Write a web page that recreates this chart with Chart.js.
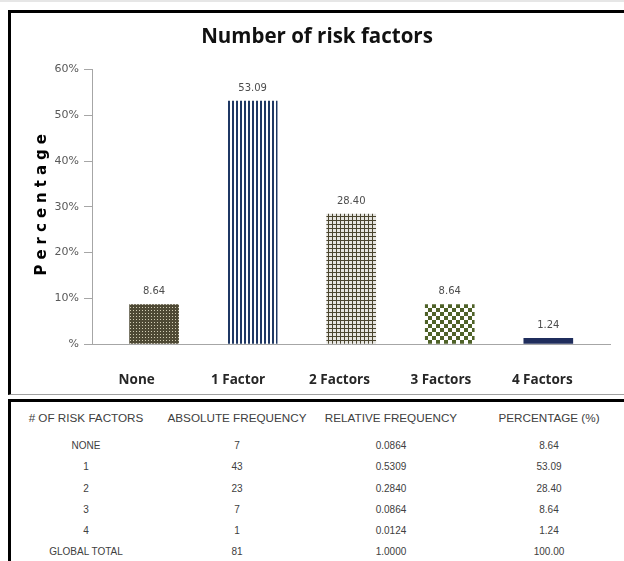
<!DOCTYPE html>
<html>
<head>
<meta charset="utf-8">
<script src="https://cdn.jsdelivr.net/npm/chart.js@4.4.1/dist/chart.umd.min.js"></script>
<style>
    body { margin: 0; width: 624px; height: 561px; overflow: hidden; background: #fff; position: relative; }
    .strip { position: absolute; left: 0; top: 0; width: 624px; height: 2px; background: #e6e6e6; }
    .chart-box { position: absolute; left: 8px; top: 10px; width: 700px; height: 385px; box-sizing: border-box;
        border-left: 3px solid #000; border-top: 3px solid #000; border-bottom: 1px solid #a0a0a0; }
    .table-box { position: absolute; left: 8px; top: 399px; width: 700px; height: 200px; box-sizing: border-box;
        border-left: 3px solid #000; border-top: 3px solid #000; }
    #chart { position: absolute; left: 0; top: 0; z-index: 1; }
    #freq { border-collapse: collapse; font-family: "Liberation Sans", Arial, sans-serif; color: #404040; }
    #freq td { padding: 0; text-align: center; white-space: nowrap; }
    #freq tr.head td { height: 33px; vertical-align: top; padding-top: 9px; box-sizing: border-box; font-size: 11.7px; line-height: 14px; }
    #freq tr.row td { height: 21.3px; font-size: 10px; line-height: 21.3px; }
</style>
</head>
<body>
<div class="strip"></div>
<div class="chart-box"></div>
<div class="table-box">
    <table id="freq">
        <colgroup>
            <col style="width:150px"><col style="width:152px"><col style="width:156px"><col style="width:160px">
        </colgroup>
        <tbody id="freq-body"></tbody>
    </table>
</div>
<canvas id="chart" width="624" height="394"></canvas>
<script>
const categories = ['None', '1 Factor', '2 Factors', '3 Factors', '4 Factors'];
const percentages = [8.64, 53.09, 28.40, 8.64, 1.24];

const tableHeaders = ['# OF RISK FACTORS', 'ABSOLUTE FREQUENCY', 'RELATIVE FREQUENCY', 'PERCENTAGE (%)'];
const rowLabels = ['NONE', '1', '2', '3', '4'];
const absoluteFreq = [7, 43, 23, 7, 1];
const relativeFreq = [0.0864, 0.5309, 0.2840, 0.0864, 0.0124];
const totalRow = ['GLOBAL TOTAL', 81, 1.0000, 100.00];

// table under the chart
const body = document.getElementById('freq-body');
let html = '<tr class="head">' + tableHeaders.map(h => `<td>${h}</td>`).join('') + '</tr>';
rowLabels.forEach((label, i) => {
    html += `<tr class="row"><td>${label}</td><td>${absoluteFreq[i]}</td>` +
        `<td>${relativeFreq[i].toFixed(4)}</td><td>${percentages[i].toFixed(2)}</td></tr>`;
});
html += `<tr class="row"><td>${totalRow[0]}</td><td>${totalRow[1]}</td>` +
    `<td>${totalRow[2].toFixed(4)}</td><td>${totalRow[3].toFixed(2)}</td></tr>`;
body.innerHTML = html;

const canvas = document.getElementById('chart');
const ctx = canvas.getContext('2d');

function makePattern(size, draw) {
    const tile = document.createElement('canvas');
    tile.width = size;
    tile.height = size;
    draw(tile.getContext('2d'), size);
    return ctx.createPattern(tile, 'repeat');
}

const dotted = makePattern(3, (p, s) => {
    p.fillStyle = '#4e4934';
    p.fillRect(0, 0, s, s);
    p.fillStyle = '#d2cdb4';
    p.fillRect(1, 1, 1, 1);
});
const stripes = makePattern(4, (p) => {
    p.fillStyle = '#ffffff';
    p.fillRect(0, 0, 4, 4);
    p.fillStyle = '#1f3864';
    p.fillRect(0, 0, 2, 4);
});
const grid = makePattern(4, (p) => {
    p.fillStyle = '#e6e5e0';
    p.fillRect(0, 0, 4, 4);
    p.fillStyle = '#4a452f';
    p.fillRect(0, 0, 1, 4);
    p.fillRect(0, 0, 4, 1);
});
const checker = makePattern(8, (p) => {
    p.fillStyle = '#ffffff';
    p.fillRect(0, 0, 8, 8);
    p.fillStyle = '#4f6228';
    p.fillRect(0, 0, 4, 4);
    p.fillRect(4, 4, 4, 4);
});
const fills = [dotted, stripes, grid, checker, '#1f2d5c'];

const valueLabels = {
    id: 'valueLabels',
    afterDatasetsDraw(chart) {
        const c = chart.ctx;
        c.save();
        c.font = '10px "DejaVu Sans"';
        c.fillStyle = '#4d4d4d';
        c.textAlign = 'center';
        c.textBaseline = 'middle';
        chart.getDatasetMeta(0).data.forEach((bar, i) => {
            c.fillText(percentages[i].toFixed(2), bar.x, bar.y - 13);
        });
        c.restore();
    }
};

// spaced vertical axis title
const yTitle = {
    id: 'yTitle',
    afterDraw(chart) {
        const c = chart.ctx;
        const area = chart.chartArea;
        c.save();
        c.translate(chart.scales.y.left + 18, (area.top + area.bottom) / 2 - 2);
        c.rotate(-Math.PI / 2);
        c.font = 'bold 15px "DejaVu Sans"';
        c.letterSpacing = '5px';
        c.fillStyle = '#000';
        c.textAlign = 'center';
        c.textBaseline = 'middle';
        c.fillText('Percentage', 2.5, 0);
        c.restore();
    }
};

new Chart(ctx, {
    type: 'bar',
    data: {
        datasets: [{
            data: percentages.map((v, i) => ({ x: i, y: v })),
            backgroundColor: fills,
            borderWidth: 0,
            barThickness: 49,
            xAxisID: 'x',
            yAxisID: 'y'
        }]
    },
    options: {
        responsive: false,
        animation: false,
        layout: { padding: { left: 24, right: 14, top: 0, bottom: 0 } },
        plugins: {
            legend: { display: false },
            tooltip: { enabled: false },
            title: {
                display: true,
                text: 'Number of risk factors',
                color: '#111',
                font: { family: 'Open Sans', size: 20.5, weight: 'bold' },
                padding: { top: 25, bottom: 20 }
            }
        },
        scales: {
            x: {
                type: 'linear',
                axis: 'x',
                position: 'bottom',
                weight: 0,
                offset: false,
                min: -0.63,
                max: 4.626,
                grid: { display: false },
                border: { display: true, color: '#a6a6a6' },
                ticks: { display: false },
                afterFit: s => { s.height = 4; }
            },
            names: {
                type: 'linear',
                axis: 'x',
                position: 'bottom',
                weight: 1,
                offset: false,
                min: -0.441,
                max: 4.668,
                grid: { display: false, drawTicks: false },
                border: { display: false },
                afterBuildTicks: s => { s.ticks = categories.map((c, i) => ({ value: i })); },
                ticks: {
                    autoSkip: false,
                    maxRotation: 0,
                    padding: 24,
                    color: '#262626',
                    font: { family: 'Open Sans', size: 13.5, weight: 'bold' },
                    callback: v => categories[v]
                },
                afterFit: s => { s.height = 46; }
            },
            y: {
                min: 0,
                max: 60,
                ticks: {
                    stepSize: 10,
                    padding: 5,
                    color: '#595959',
                    font: { family: 'DejaVu Sans', size: 11 },
                    callback: v => v === 0 ? '%' : v + '%'
                },
                grid: { drawOnChartArea: false, tickLength: 8, color: '#a6a6a6' },
                border: { color: '#a6a6a6' },
                afterFit: s => { s.width = 68; }
            }
        }
    },
    plugins: [valueLabels, yTitle]
});
</script>
</body>
</html>
